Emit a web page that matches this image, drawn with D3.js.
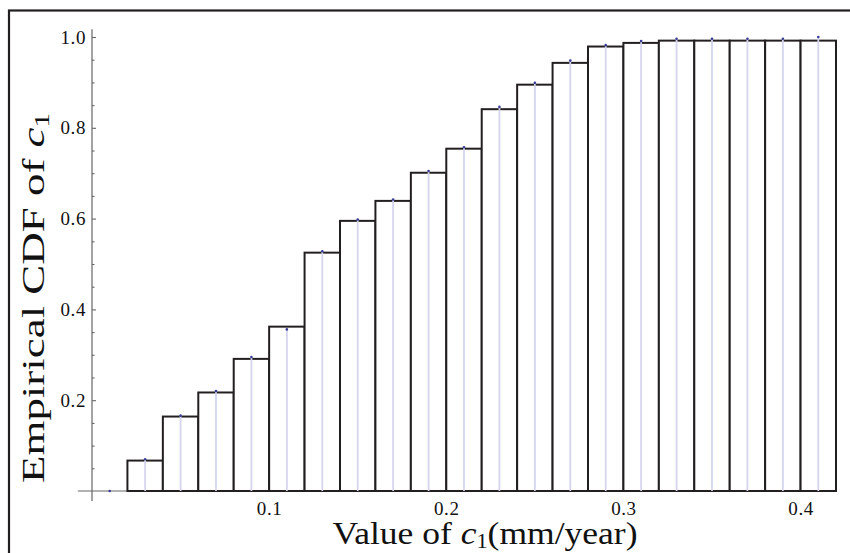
<!DOCTYPE html>
<html>
<head>
<meta charset="utf-8">
<script src="https://cdn.jsdelivr.net/npm/d3@7"></script>
<style>
  body { margin: 0; background: #fff; }
  svg { display: block; font-family: "Liberation Serif", "Times New Roman", serif; }
</style>
</head>
<body>
<div id="chart"></div>
<script>
// left edges of the bars, each bin is 0.02 wide
const binStarts = [0.02, 0.04, 0.06, 0.08, 0.10, 0.12, 0.14, 0.16, 0.18, 0.20,
                   0.22, 0.24, 0.26, 0.28, 0.30, 0.32, 0.34, 0.36, 0.38, 0.40];
const binWidth = 0.02;
const barHeights = [0.067, 0.164, 0.217, 0.291, 0.362, 0.525, 0.595, 0.639, 0.701, 0.754,
                    0.841, 0.895, 0.943, 0.979, 0.987, 0.992, 0.992, 0.992, 0.992, 0.992];

// empirical CDF points (dots + filling lines)
const pointX = [0.01, 0.03, 0.05, 0.07, 0.09, 0.11, 0.13, 0.15, 0.17, 0.19, 0.21,
                0.23, 0.25, 0.27, 0.29, 0.31, 0.33, 0.35, 0.37, 0.39, 0.41];
const pointY = [0, 0.070, 0.166, 0.220, 0.295, 0.356, 0.528, 0.598, 0.642, 0.705, 0.757,
                0.846, 0.899, 0.948, 0.982, 0.991, 0.996, 0.996, 0.996, 0.996, 1.0];

const xTicks = [0.1, 0.2, 0.3, 0.4];
const xMinorTicks = [0.02, 0.04, 0.06, 0.08, 0.12, 0.14, 0.16, 0.18, 0.22, 0.24, 0.26, 0.28,
                     0.32, 0.34, 0.36, 0.38];
const yTicks = [0.2, 0.4, 0.6, 0.8, 1.0];
const yMinorTicks = [0.05, 0.1, 0.15, 0.25, 0.3, 0.35, 0.45, 0.5, 0.55, 0.65, 0.7, 0.75,
                     0.85, 0.9, 0.95];

const width = 850;
const height = 553;

const svg = d3.select('#chart')
  .append('svg')
  .attr('width', width)
  .attr('height', height);

// outer frame (runs off the right and bottom of the picture)
svg.append('rect')
  .attr('x', 9)
  .attr('y', 10.5)
  .attr('width', 900)
  .attr('height', 600)
  .attr('fill', 'none')
  .attr('stroke', '#231f20')
  .attr('stroke-width', 2.2);

const x = d3.scaleLinear().domain([0, 0.42]).range([92, 836]);
const y = d3.scaleLinear().domain([0, 1]).range([491, 37]);

const axisColor = '#666';

// axis lines
svg.append('line')
  .attr('x1', x(-0.008)).attr('x2', x(0.42))
  .attr('y1', y(0)).attr('y2', y(0))
  .attr('stroke', axisColor).attr('stroke-width', 1.2);

svg.append('line')
  .attr('x1', x(0)).attr('x2', x(0))
  .attr('y1', y(1.017)).attr('y2', y(-0.022))
  .attr('stroke', axisColor).attr('stroke-width', 1.2);

// ticks
const xAxis = svg.append('g')
  .attr('transform', `translate(0,${y(0)})`)
  .call(d3.axisBottom(x).tickValues(xTicks).tickSize(-5).tickPadding(11).tickFormat(d3.format('.1f')));
const xMinor = svg.append('g')
  .attr('transform', `translate(0,${y(0)})`)
  .call(d3.axisBottom(x).tickValues(xMinorTicks).tickSize(-2.5).tickFormat(''));

const yAxis = svg.append('g')
  .attr('transform', `translate(${x(0)},0)`)
  .call(d3.axisLeft(y).tickValues(yTicks).tickSize(-4).tickPadding(6).tickFormat(d3.format('.1f')));
const yMinor = svg.append('g')
  .attr('transform', `translate(${x(0)},0)`)
  .call(d3.axisLeft(y).tickValues(yMinorTicks).tickSize(-2.5).tickFormat(''));

[xAxis, xMinor, yAxis, yMinor].forEach((g) => {
  g.select('.domain').remove();
  g.attr('font-size', 19).attr('font-family', '"Liberation Serif", serif');
  g.selectAll('line').attr('stroke', axisColor).attr('stroke-width', 1.1);
  g.selectAll('text')
    .attr('fill', '#111')
    .style('font-size', '19px')
    .style('letter-spacing', '0.6px');
});

// bars
svg.append('g')
  .selectAll('rect')
  .data(binStarts)
  .enter()
  .append('rect')
  .attr('x', (d) => x(d))
  .attr('y', (d, i) => y(barHeights[i]))
  .attr('width', x(binWidth) - x(0))
  .attr('height', (d, i) => y(0) - y(barHeights[i]))
  .attr('fill', '#fff')
  .attr('stroke', '#231f20')
  .attr('stroke-width', 2);

// filling lines from the points down to the axis
svg.append('g')
  .selectAll('line')
  .data(pointX)
  .enter()
  .append('line')
  .attr('x1', (d) => x(d)).attr('x2', (d) => x(d))
  .attr('y1', y(0))
  .attr('y2', (d, i) => y(pointY[i]))
  .attr('stroke', '#d4d4ec')
  .attr('stroke-width', 1.8);

svg.append('g')
  .selectAll('circle')
  .data(pointX)
  .enter()
  .append('circle')
  .attr('cx', (d) => x(d))
  .attr('cy', (d, i) => y(pointY[i]))
  .attr('r', 1.3)
  .attr('fill', '#3a3a99');

// axis titles
const xTitle = svg.append('text')
  .attr('x', 485)
  .attr('y', 544)
  .attr('text-anchor', 'middle')
  .attr('textLength', 305)
  .attr('lengthAdjust', 'spacingAndGlyphs')
  .style('font-size', '32px')
  .attr('fill', '#111');
xTitle.append('tspan').text('Value of ');
xTitle.append('tspan').style('font-style', 'italic').text('c');
xTitle.append('tspan').style('font-size', '20px').attr('dy', 4).text('1');
xTitle.append('tspan').attr('dy', -4).text('(mm/year)');

const yTitle = svg.append('text')
  .attr('transform', 'translate(44,298) rotate(-90)')
  .attr('text-anchor', 'middle')
  .attr('textLength', 370)
  .attr('lengthAdjust', 'spacingAndGlyphs')
  .style('font-size', '31px')
  .attr('fill', '#111');
yTitle.append('tspan').text('Empirical CDF of ');
yTitle.append('tspan').style('font-style', 'italic').text('c');
yTitle.append('tspan').style('font-size', '20px').attr('dy', 5).text('1');
</script>
</body>
</html>
